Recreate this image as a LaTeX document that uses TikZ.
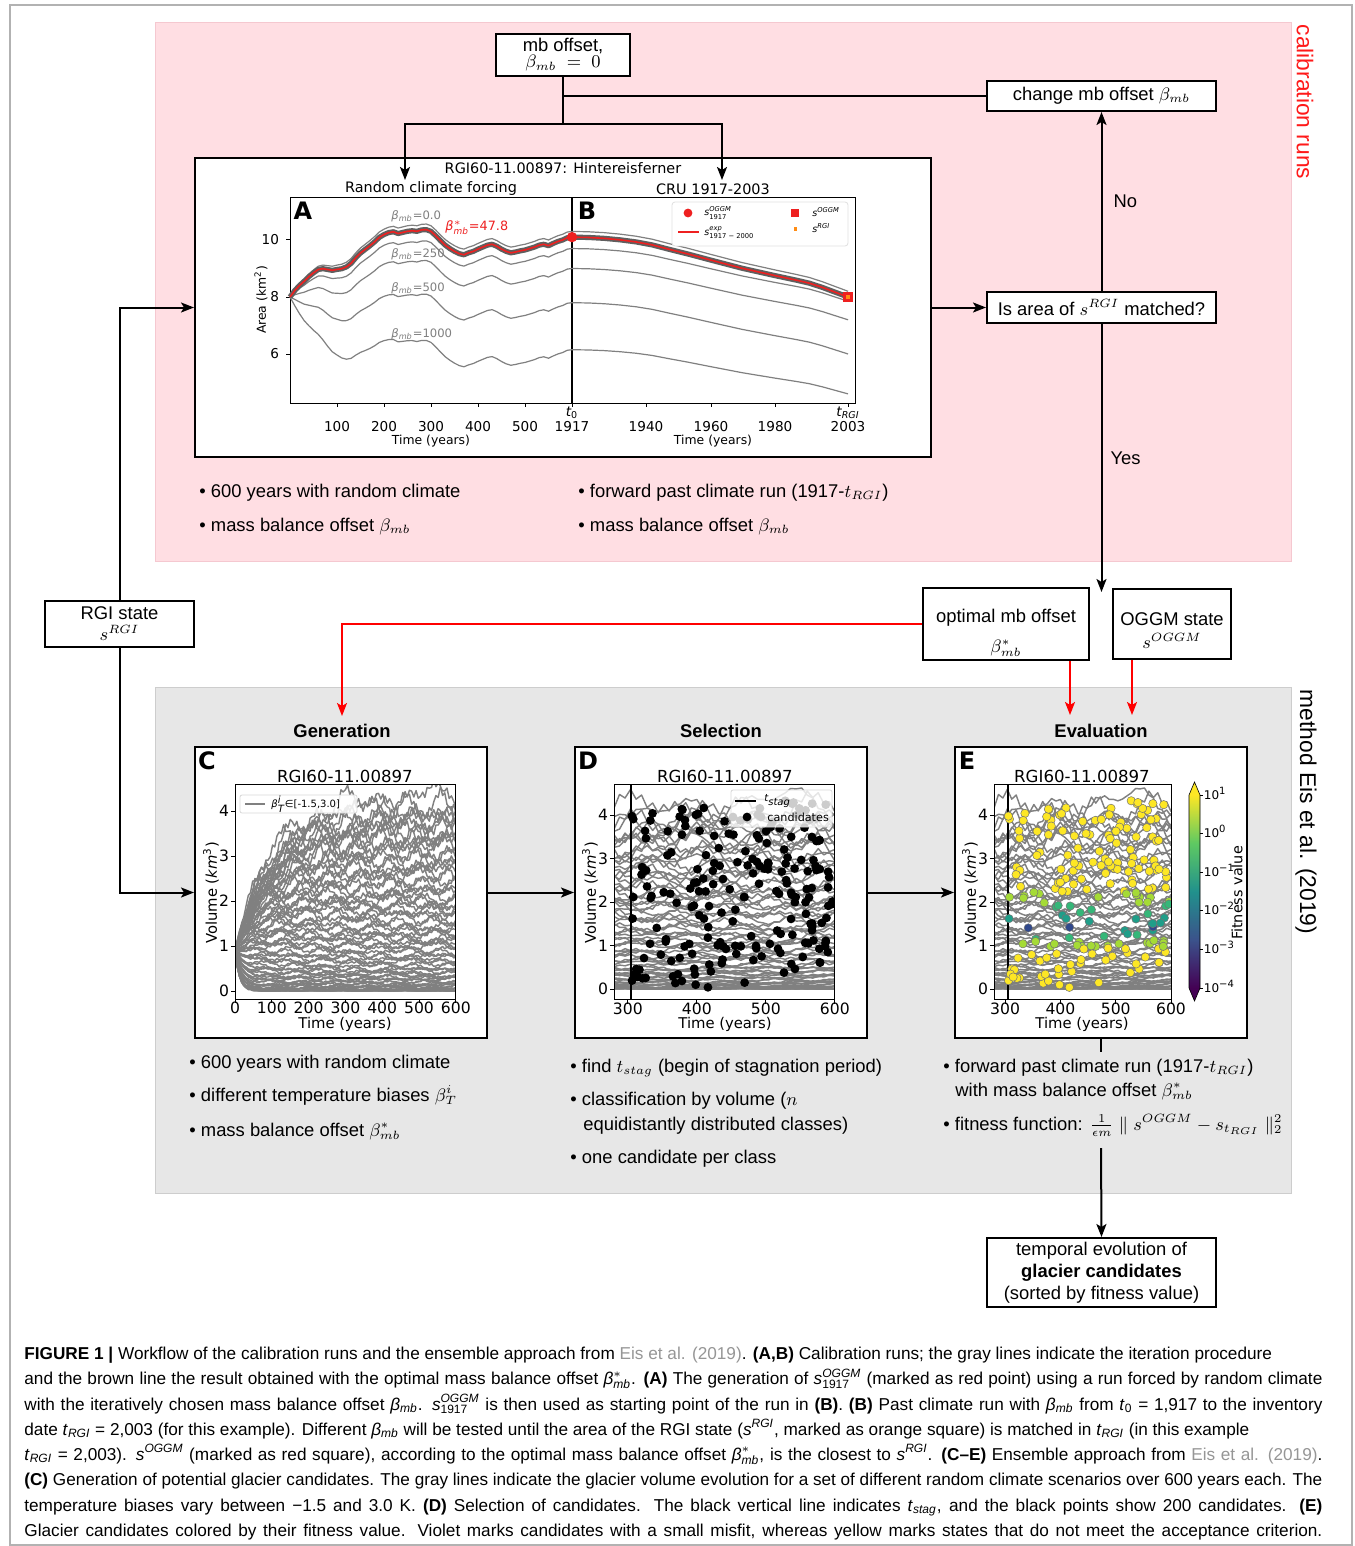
\documentclass[tikz,border=0pt]{standalone}
\usepackage{amsmath}
\usepackage{fontspec}
\setmainfont{Liberation Sans}
\newfontfamily\plotfont{DejaVu Sans}
\newfontfamily\capfont{Liberation Sans}
\usetikzlibrary{arrows.meta}

\definecolor{pinkbg}{RGB}{255,222,227}
\definecolor{pinkedge}{RGB}{245,200,208}
\definecolor{graybg}{RGB}{231,231,231}
\definecolor{grayedge}{RGB}{205,205,205}
\definecolor{plotgray}{RGB}{128,128,128}
\definecolor{halo}{RGB}{95,95,95}
\definecolor{linkgray}{RGB}{150,150,150}
\definecolor{redmark}{RGB}{238,32,32}
\definecolor{orangemark}{RGB}{255,140,20}
\definecolor{sidered}{RGB}{255,26,26}
\definecolor{vir0}{HTML}{440154}
\definecolor{vir1}{HTML}{3B528B}
\definecolor{vir2}{HTML}{21918C}
\definecolor{vir3}{HTML}{5EC962}
\definecolor{vir4}{HTML}{FDE725}
\definecolor{fit1}{HTML}{30488C}
\definecolor{fit2}{HTML}{1F9E89}
\definecolor{fit3}{HTML}{35B779}
\definecolor{fit4}{HTML}{A5DB36}
\definecolor{fit5}{HTML}{FDE725}

\pgfdeclareverticalshading{viridis}{100bp}{color(0bp)=(vir0); color(25bp)=(vir0); color(37.5bp)=(vir1); color(50bp)=(vir2); color(62.5bp)=(vir3); color(75bp)=(vir4); color(100bp)=(vir4)}

\newcommand\mainsz{\fontsize{9.2pt}{11pt}\selectfont}
\newcommand\pfs[1]{\plotfont\fontsize{#1}{#1}\selectfont}
\newcommand\capsz{\capfont\fontsize{8.6pt}{10pt}\selectfont}
\newcommand\ssup[2]{\ensuremath{^{\text{#1}}_{\text{#2}}}}
\newcommand\Cb{\textit{β}\ensuremath{_{\text{\itshape mb}}}}
\newcommand\Cbs{\textit{β}\ensuremath{^{*}_{\text{\itshape mb}}}}
\newcommand\CsO{\textit{s}\ensuremath{^{\text{\itshape OGGM}}_{\text{1917}}}}
\newcommand\Ct{\textit{t}\ensuremath{_{\text{\itshape RGI}}}}
\newcommand\Cs[1]{\textit{s}\textsuperscript{\itshape #1}}
\newcommand\fitline[1]{\setbox0\hbox{#1}%
  \ifdim\wd0>649pt\relax\pgfmathsetmacro\capr{649pt/\wd0}\scalebox{\capr}[1]{\box0}%
  \else\makebox[649pt][s]{#1}\fi}

\newcommand\volcurves[3]{%
  \foreach \ii in {1,...,#3} {
    \pgfmathsetmacro\Lv{4.35*(frac(\ii*0.6180339+0.07))^2}
    \pgfmathsetmacro\tv{12+22*\Lv}
    \pgfmathsetmacro\am{0.03+0.055*\Lv}
    \pgfmathsetmacro\pA{mod(\ii*47,360)}
    \pgfmathsetmacro\pB{mod(\ii*83,360)}
    \draw[curve] plot[domain=#1:600, samples=#2, variable=\x] (\x,{max(0,\Lv+(0.9-\Lv)*exp(max(-12,-\x/\tv))+\am*(sin(\x*1.7+\pA)+0.6*sin(\x*4.3+\pB)+0.35*sin(\x*23+\pA))*(1-exp(max(-12,-\x/30))))});
  }}

\tikzset{
  box/.style={draw=black, line width=1pt, fill=white, inner sep=0pt, align=center, font=\mainsz},
  arr/.style={line width=1pt, -{Stealth[length=6.5pt,width=5pt,inset=1.5pt]}},
  conn/.style={line width=1pt},
  redarr/.style={draw=red, line width=0.8pt, -{Stealth[length=6.5pt,width=5pt,inset=1.5pt]}},
  bul/.style={anchor=base west, inner sep=0pt, font=\mainsz},
  head/.style={font=\mainsz\bfseries, inner sep=0pt},
  side/.style={rotate=-90, font=\fontsize{11.4pt}{13pt}\selectfont, inner sep=0pt},
  panel/.style={draw=black, line width=1pt, fill=white, minimum width=146pt, minimum height=145.5pt, inner sep=0pt},
  pletter/.style={font=\plotfont\bfseries\fontsize{12pt}{12pt}\selectfont, inner sep=0pt},
  curve/.style={plotgray, line width=0.72pt, line join=round},
  pline/.style={plotgray, line width=0.6pt, line join=round},
  ax/.style={line width=0.5pt},
  ytl/.style={font=\pfs{7.8pt}, anchor=east, inner sep=0pt},
  xtl/.style={font=\pfs{7.8pt}, inner sep=0pt},
  capline/.style={anchor=base west, inner sep=0pt, font=\capsz},
  edgelab/.style={font=\mainsz, anchor=west, inner sep=0pt},
}

\begin{document}
\begin{tikzpicture}[x=0.5pt,y=-0.5pt]
\useasboundingbox (0,0) rectangle (1354,1546);
\fill[white] (0,0) rectangle (1354,1546);
\draw[gray!60, line width=0.6pt] (10,5) rectangle (1352,1545);

% backgrounds
\filldraw[fill=pinkbg, draw=pinkedge, line width=0.5pt] (155,23) rectangle (1291,561);
\filldraw[fill=graybg, draw=grayedge, line width=0.5pt] (155,687) rectangle (1291,1193);
\node[side, text=sidered] (calib) at (1305,102) {calibration runs};
\node[side] (method) at (1306,812) {method Eis et al. (2019)};

% ---------- top boxes
\node[box, minimum width=67pt, minimum height=21pt] (mb) at (563,55) {mb offset,\\[-3pt]$\beta_{mb}\;=\;0$};
\node[box, minimum width=114.5pt, minimum height=15pt] (chg) at (1101.5,96) {change mb offset $\beta_{mb}$};
\node[box, minimum width=114.5pt, minimum height=15.5pt] (isarea) at (1101.5,307.5) {Is area of $s^{RGI}$ matched?};

% ---------- big plot box
\node[draw=black, line width=1pt, fill=white, minimum width=368pt, minimum height=149.5pt, inner sep=0pt] (ab) at (563,307.5) {};
\node[font=\pfs{7.2pt}] (abtitle) at (563,168) {RGI60-11.00897: Hintereisferner};
\node[font=\pfs{7.2pt}] (abt1) at (431,189) {Random climate forcing};
\node[font=\pfs{7.2pt}] (abt2) at (713,189) {CRU 1917-2003};
\draw[ax] (290,198) rectangle (855,403);
\draw[line width=0.8pt] (572,198) -- (572,403);
\node[pletter] (la) at (303,211) {A};
\node[pletter] (lb) at (587,211) {B};
\foreach \xx/\lab in {337/100,384/200,431/300,478/400,525/500,572/1917,646/1940,711/1960,775/1980,848/2003} {
  \draw[ax] (\xx,403) -- (\xx,407);
  \node[font=\pfs{6.8pt}] at (\xx,427) {\lab};
}
\foreach \yy/\lab in {240/10,297/8,354/6} {
  \draw[ax] (290,\yy) -- (286,\yy);
  \node[font=\pfs{6.8pt}, anchor=east] at (286,\yy) {\lab};
}
\node[font=\pfs{6.8pt}] (t0) at (572,413) {{\itshape t}\ensuremath{_{\text{0}}}};
\node[font=\pfs{6.8pt}] (trgi) at (848,413) {{\itshape t}\ensuremath{_{\text{\itshape RGI}}}};
\node[font=\pfs{6.2pt}] (abx1) at (431,441) {Time (years)};
\node[font=\pfs{6.2pt}] (abx2) at (713,441) {Time (years)};
\node[font=\pfs{6.2pt}, rotate=90] (aby) at (261,300) {Area (km\textsuperscript{2})};

\def\baseA{0/8.00,10/8.25,20/8.45,30/8.62,40/8.80,50/8.95,60/9.08,70/9.12,80/9.10,90/9.08,100/9.12,110/9.15,120/9.22,130/9.35,140/9.55,150/9.72,160/9.85,170/9.98,180/10.12,190/10.28,200/10.38,210/10.45,220/10.48,230/10.42,240/10.46,250/10.50,260/10.52,270/10.50,280/10.55,290/10.56,300/10.50,310/10.35,320/10.18,330/10.02,340/9.90,350/9.80,360/9.72,370/9.68,380/9.75,390/9.80,400/9.88,410/9.95,420/10.02,430/10.05,440/9.98,450/9.88,460/9.80,470/9.75,480/9.78,490/9.82,500/9.85,510/9.90,520/9.95,530/10.02,540/10.05,550/10.00,560/10.08,570/10.15,580/10.20,590/10.28,600/10.30}
\def\hB{0/0,5/0.005,10/0.02,15/0.045,20/0.08,25/0.13,30/0.2,36/0.28,43/0.38,48/0.45,53/0.52,58/0.58,63/0.64,70/0.72,74/0.77,78/0.84,82/0.92,86/1}
\begin{scope}[shift={(290,297)}, x=0.235pt, y=14.25pt]
  \foreach \Dk in {0,0.6,1.3,2.5,4.15} {
    \draw[pline] (0,0) \foreach \tq/\aq in \baseA {-- (\tq,{\aq-8-\Dk*(1-exp(-\tq/70))})};
  }
  \draw[halo, line width=2.6pt, line join=round] (0,0) \foreach \tq/\aq in \baseA {-- (\tq,{\aq-8-0.2*(1-exp(-\tq/70))})};
  \draw[redmark, line width=0.8pt, line join=round] (0,0) \foreach \tq/\aq in \baseA {-- (\tq,{\aq-8-0.2*(1-exp(-\tq/70))})};
\end{scope}
\begin{scope}[shift={(572,297)}, x=1.605pt, y=14.25pt]
  \foreach \Sk/\Rk in {10.3/2.1,9.7/1.85,9.0/1.8,7.8/1.8,6.15/1.55} {
    \draw[pline] (0,{\Sk-8}) \foreach \uq/\hq in \hB {-- (\uq,{\Sk-8-\Rk*\hq})};
  }
  \draw[halo, line width=2.6pt, line join=round] (0,2.1) \foreach \uq/\hq in \hB {-- (\uq,{2.1-2.1*\hq})};
  \draw[redmark, line width=0.8pt, line join=round] (0,2.1) \foreach \uq/\hq in \hB {-- (\uq,{2.1-2.1*\hq})};
  \fill[redmark] (0,2.1) circle[radius=2.6pt];
  \node[fill=redmark, minimum size=4.6pt, inner sep=0pt] (sqend) at (86,0) {};
  \node[fill=orangemark, minimum size=2.4pt, inner sep=0pt] at (86,0) {};
\end{scope}
\node[font=\pfs{5.8pt}, text=plotgray, anchor=west, inner sep=0pt] at (391,216) {{\itshape β}\ensuremath{_{\text{\itshape mb}}}=0.0};
\node[font=\pfs{6.4pt}, text=redmark, anchor=west, inner sep=0pt] at (445,228) {{\itshape β}\ensuremath{^{*}_{\text{\itshape mb}}}=47.8};
\node[font=\pfs{5.8pt}, text=plotgray, anchor=west, inner sep=0pt] at (391,254) {{\itshape β}\ensuremath{_{\text{\itshape mb}}}=250};
\node[font=\pfs{5.8pt}, text=plotgray, anchor=west, inner sep=0pt] at (391,288) {{\itshape β}\ensuremath{_{\text{\itshape mb}}}=500};
\node[font=\pfs{5.8pt}, text=plotgray, anchor=west, inner sep=0pt] at (391,334) {{\itshape β}\ensuremath{_{\text{\itshape mb}}}=1000};
% legend B
\filldraw[fill=white, draw=black!12, line width=0.4pt, rounded corners=1.5pt] (672,202) rectangle (848,246);
\fill[redmark] (688,213) circle[radius=2.2pt];
\node[font=\pfs{4.8pt}, anchor=west, inner sep=0pt] at (704,213) {{\itshape s}\ssup{\itshape OGGM}{1917}};
\draw[redmark, line width=0.8pt] (678,232) -- (699,232);
\node[font=\pfs{4.8pt}, anchor=west, inner sep=0pt] at (704,233) {{\itshape s}\ssup{\itshape exp}{1917 − 2000}};
\fill[redmark] (791,209) rectangle (799,217);
\fill[orangemark] (793.5,227.5) rectangle (797,231);
\node[font=\pfs{4.8pt}, anchor=west, inner sep=0pt] at (812,212) {{\itshape s}\textsuperscript{\itshape OGGM}};
\node[font=\pfs{4.8pt}, anchor=west, inner sep=0pt] at (812,228) {{\itshape s}\textsuperscript{\itshape RGI}};

% pink bullets
\node[bul] (pa1) at (199,497) {• 600 years with random climate};
\node[bul] (pa2) at (199,531) {• mass balance offset $\beta_{mb}$};
\node[bul] (pb1) at (578,497) {• forward past climate run (1917-$t_{RGI}$)};
\node[bul] (pb2) at (578,531) {• mass balance offset $\beta_{mb}$};

% ---------- middle boxes
\node[box, minimum width=74.5pt, minimum height=23pt] (rgi) at (119.5,624) {};
\node[font=\mainsz, inner sep=0pt] (rgit) at (119.5,613) {RGI state};
\node[font=\mainsz, inner sep=0pt] (rgib) at (119.5,633) {$s^{RGI}$};
\node[box, minimum width=83pt, minimum height=36pt] (opt) at (1006,624) {};
\node[font=\mainsz, inner sep=0pt] (optt) at (1006,618) {optimal mb offset};
\node[font=\mainsz, inner sep=0pt] (optb) at (1006,648) {$\beta^*_{mb}$};
\node[box, minimum width=59pt, minimum height=35pt] (oggm) at (1172,624) {};
\node[font=\mainsz, inner sep=0pt] (oggmt) at (1172,619) {OGGM state};
\node[font=\mainsz, inner sep=0pt] (oggmb) at (1172,641) {$s^{OGGM}$};

% ---------- headings
\node[head] (hgen) at (342,731) {Generation};
\node[head] (hsel) at (721,731) {Selection};
\node[head] (heva) at (1101,731) {Evaluation};

% ---------- panels
\node[panel] (C) at (341,892.5) {};
\node[panel] (D) at (721,892.5) {};
\node[panel] (E) at (1101,892.5) {};

% Panel C
\node[pletter] (lc) at (207,761) {C};
\node[font=\pfs{8.3pt}] (ctitle) at (345,776) {RGI60-11.00897};
\begin{scope}[shift={(235,991)}, x=0.184pt, y=22.5pt]
  \begin{scope}
    \clip (0,-0.18) rectangle (600,4.6);
    \volcurves{0}{101}{80}
  \end{scope}
  \draw[ax] (0,-0.18) rectangle (600,4.6);
  \foreach \k in {0,...,4} {\draw[ax] (0,\k) -- ++(-2pt,0); \node[ytl] at ([xshift=-2.8pt]0,\k) {\k};}
  \foreach \k in {0,100,...,600} {\draw[ax] (\k,-0.18) -- ++(0,-2pt); \node[xtl] at ([yshift=-4.4pt]\k,-0.18) {\k};}
\end{scope}
\filldraw[fill=white, fill opacity=0.85, draw=black!15, line width=0.4pt, rounded corners=1pt] (240,795) rectangle (357,813);
\draw[plotgray, line width=0.8pt] (245,804) -- (265,804);
\node[font=\pfs{5pt}, anchor=west, inner sep=0pt] at (271,804) {{\itshape β}\ssup{\itshape i}{\itshape T}∈[-1.5,3.0]};
\node[font=\pfs{7.4pt}] (cx) at (345,1024) {Time (years)};
\node[font=\pfs{7.4pt}, rotate=90] (cy) at (211,893) {Volume ({\itshape km}\textsuperscript{3})};

% Panel D
\node[pletter] (ld) at (588,761) {D};
\node[font=\pfs{8.3pt}] (dtitle) at (725,776) {RGI60-11.00897};
\begin{scope}[shift={(420.8,989)}, x=0.345pt, y=21.75pt]
  \begin{scope}
    \clip (280,-0.25) rectangle (600,4.71);
    \volcurves{280}{41}{80}
    \draw[line width=1pt] (305,-0.25) -- (305,4.71);
    \pgfmathsetseed{4711}
    \foreach \j in {1,...,200} {
      \pgfmathsetmacro\dt{305+292*rnd}
      \pgfmathsetmacro\dv{0.03+4.3*rnd}
      \fill[black] (\dt,\dv) circle[radius=2.2pt];
    }
  \end{scope}
  \draw[ax] (280,-0.25) rectangle (600,4.71);
  \foreach \k in {0,...,4} {\draw[ax] (280,\k) -- ++(-2pt,0); \node[ytl] at ([xshift=-2.8pt]280,\k) {\k};}
  \foreach \k in {300,400,500,600} {\draw[ax] (\k,-0.25) -- ++(0,-2pt); \node[xtl] at ([yshift=-4.4pt]\k,-0.25) {\k};}
\end{scope}
\filldraw[fill=white, fill opacity=0.8, draw=black!15, line width=0.4pt, rounded corners=1pt] (731,790) rectangle (832,827);
\draw[line width=0.9pt] (735,801) -- (756,801);
\node[font=\pfs{5pt}, anchor=west, inner sep=0pt] at (764,801) {{\itshape t}\ensuremath{_{\text{\itshape stag}}}};
\fill[black!20] (733,817) circle[radius=2.2pt];
\fill[black!20] (761,817) circle[radius=2.2pt];
\fill[black] (747,817) circle[radius=2.2pt];
\node[font=\pfs{5.6pt}, anchor=west, inner sep=0pt] at (767,817) {candidates};
\node[font=\pfs{7.4pt}] (dx) at (725,1024) {Time (years)};
\node[font=\pfs{7.4pt}, rotate=90] (dy) at (590,893) {Volume ({\itshape km}\textsuperscript{3})};

% Panel E
\node[pletter] (le) at (967,761) {E};
\node[font=\pfs{8.3pt}] (etitle) at (1082,776) {RGI60-11.00897};
\begin{scope}[shift={(839.2,989)}, x=0.2765pt, y=21.75pt]
  \begin{scope}
    \clip (280,-0.25) rectangle (600,4.71);
    \volcurves{280}{41}{80}
    \draw[line width=1pt] (305,-0.25) -- (305,4.71);
    \pgfmathsetseed{4711}
    \foreach \j in {1,...,200} {
      \pgfmathsetmacro\dt{305+292*rnd}
      \pgfmathsetmacro\dv{0.03+4.3*rnd}
      \pgfmathsetmacro\dd{\dv>1.42 ? (\dv-1.42)*0.55 : 1.42-\dv}
      \pgfmathtruncatemacro\ci{\dd<0.025 ? 1 : (\dd<0.16 ? 2 : (\dd<0.3 ? 3 : (\dd<0.45 ? 4 : 5)))}
      \filldraw[fill=fit\ci, draw=black!55, line width=0.25pt] (\dt,\dv) circle[radius=2.1pt];
    }
  \end{scope}
  \draw[ax] (280,-0.25) rectangle (600,4.71);
  \foreach \k in {0,...,4} {\draw[ax] (280,\k) -- ++(-2pt,0); \node[ytl] at ([xshift=-2.8pt]280,\k) {\k};}
  \foreach \k in {300,400,500,600} {\draw[ax] (\k,-0.25) -- ++(0,-2pt); \node[xtl] at ([yshift=-4.4pt]\k,-0.25) {\k};}
\end{scope}
\shade[shading=viridis] (1189,795) rectangle (1200,988);
\fill[vir4] (1189,795) -- (1194.5,782) -- (1200,795) -- cycle;
\fill[vir0] (1189,988) -- (1194.5,1001) -- (1200,988) -- cycle;
\draw[line width=0.3pt] (1189,795) -- (1194.5,782) -- (1200,795) -- (1200,988) -- (1194.5,1001) -- (1189,988) -- cycle;
\foreach \yy/\ex in {795/1,833.6/0,872.2/−1,910.8/−2,949.4/−3,988/−4} {
  \draw[ax] (1200,\yy) -- (1203,\yy);
  \node[font=\pfs{6pt}, anchor=west, inner sep=0pt] at (1203.5,\yy-2) {10\textsuperscript{\ex}};
}
\node[font=\pfs{7.2pt}, rotate=90] (ecb) at (1237,893) {Fitness value};
\node[font=\pfs{7.4pt}] (ex) at (1082,1024) {Time (years)};
\node[font=\pfs{7.4pt}, rotate=90] (ey) at (970,893) {Volume ({\itshape km}\textsuperscript{3})};

% gray bullets
\node[bul] (c1) at (189,1068) {• 600 years with random climate};
\node[bul] (c2) at (189,1101) {• different temperature biases $\beta^i_T$};
\node[bul] (c3) at (189,1136) {• mass balance offset $\beta^*_{mb}$};
\node[bul] (d1) at (570,1072) {• find $t_{stag}$ (begin of stagnation period)};
\node[bul] (d2) at (570,1105) {• classification by volume ($n$};
\node[bul] (d3) at (583,1130) {equidistantly distributed classes)};
\node[bul] (d4) at (570,1163) {• one candidate per class};
\node[bul] (e1) at (943,1072) {• forward past climate run (1917-$t_{RGI}$)};
\node[bul] (e2) at (955,1096) {with mass balance offset $\beta^*_{mb}$};
\node[bul] (e3) at (943,1130) {• fitness function: $\frac{1}{\epsilon m}\parallel s^{OGGM}-s_{t_{RGI}}\parallel_2^2$};

% final box
\node[box, minimum width=114.5pt, minimum height=34.5pt] (tev) at (1101.5,1272.5) {temporal evolution of\\{\bfseries glacier candidates}\\(sorted by fitness value)};

% ---------- connectors
\coordinate (split) at (563,124);
\coordinate (inA) at (405,180);
\coordinate (inB) at (722,180);
\draw[conn] (mb.south) -- (split);
\draw[arr] (split) -| (inA);
\draw[arr] (split) -| (inB);
\draw[conn] (chg.west) -- (chg.west -| mb.south);
\draw[arr] (ab.east |- isarea.west) -- (isarea.west);
\draw[arr] (isarea.north) -- (chg.south) node[pos=0.5, edgelab, xshift=5.5pt] {No};
\coordinate (yesend) at (1101.5,592);
\draw[arr] (isarea.south) -- (yesend) node[pos=0.5, edgelab, xshift=4pt] {Yes};
\draw[arr] (rgi.north) |- (ab.west);
\draw[arr] (rgi.south) |- (C.west);
\draw[arr] (C.east) -- (D.west);
\draw[arr] (D.east) -- (E.west);
\coordinate (gap1) at (1101,1052);
\coordinate (gap2) at (1101,1148);
\draw[conn] (E.south) -- (gap1);
\draw[arr] (gap2) -- (tev.north);
\coordinate (genarr) at (342,716);
\draw[redarr] (opt.west) -| (genarr);
\coordinate (ev1) at (1070,715);
\coordinate (ev2) at (1132,715);
\draw[redarr] (ev1 |- opt.south) -- (ev1);
\draw[redarr] (ev2 |- oggm.south) -- (ev2);

% ---------- caption
\node[capline] (cap1) at (24,1359.5) {{\bfseries FIGURE 1 |} Workflow of the calibration runs and the ensemble approach from \textcolor{linkgray}{Eis et al. (2019)}. {\bfseries (A,B)} Calibration runs; the gray lines indicate the iteration procedure};
\node[capline] (cap2) at (24,1384.8) {\fitline{and the brown line the result obtained with the optimal mass balance offset \Cbs. {\bfseries (A)} The generation of \CsO{} (marked as red point) using a run forced by random climate}};
\node[capline] (cap3) at (24,1410) {\fitline{with the iteratively chosen mass balance offset \Cb. \CsO{} is then used as starting point of the run in {\bfseries (B)}. {\bfseries (B)} Past climate run with \Cb{} from \textit{t}\ensuremath{_{\text{0}}} = 1,917 to the inventory}};
\node[capline] (cap4) at (24,1435.3) {date \Ct{} = 2,003 (for this example). Different \Cb{} will be tested until the area of the RGI state (\Cs{RGI}, marked as orange square) is matched in \Ct{} (in this example};
\node[capline] (cap5) at (24,1460.5) {\fitline{\Ct{} = 2,003). \Cs{OGGM} (marked as red square), according to the optimal mass balance offset \Cbs, is the closest to \Cs{RGI}. {\bfseries (C–E)} Ensemble approach from \textcolor{linkgray}{Eis et al. (2019)}.}};
\node[capline] (cap6) at (24,1485.8) {\fitline{{\bfseries (C)} Generation of potential glacier candidates. The gray lines indicate the glacier volume evolution for a set of different random climate scenarios over 600 years each. The}};
\node[capline] (cap7) at (24,1511) {\fitline{temperature biases vary between −1.5 and 3.0 K. {\bfseries (D)} Selection of candidates. The black vertical line indicates \textit{t}\ensuremath{_{\text{\itshape stag}}}, and the black points show 200 candidates. {\bfseries (E)}}};
\node[capline] (cap8) at (24,1536.3) {\fitline{Glacier candidates colored by their fitness value. Violet marks candidates with a small misfit, whereas yellow marks states that do not meet the acceptance criterion.}};
\end{tikzpicture}
\end{document}
